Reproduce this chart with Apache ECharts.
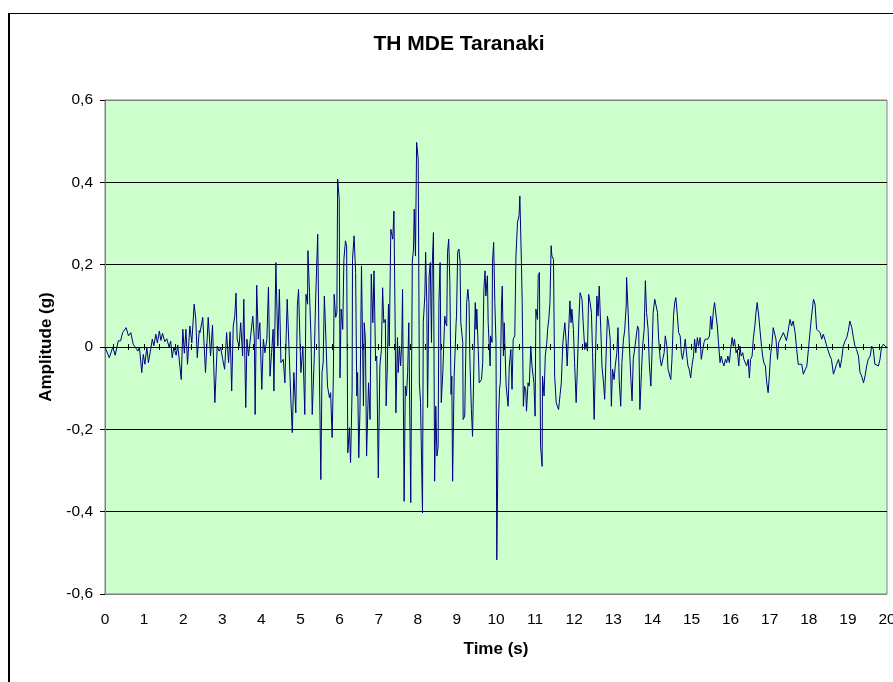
<!DOCTYPE html>
<html><head><meta charset="utf-8">
<script src="https://cdn.jsdelivr.net/npm/echarts@6/dist/echarts.min.js"></script>
<style>html,body{margin:0;padding:0;background:#fff}#c{width:893px;height:682px}</style>
</head><body><div id="c"></div>
<script>
const chartTitle = 'TH MDE Taranaki';
const xName = 'Time (s)';
const yName = 'Amplitude (g)';

const time = [
0.00,0.11,0.20,0.26,0.34,0.40,0.45,0.54,0.60,0.66,0.72,0.84,0.88,0.94,0.98,1.02,1.07,1.11,1.17,1.21,1.25,1.30,1.34,1.39,1.43,1.47,1.53,1.58,1.64,1.68,1.72,1.76,1.82,1.86,1.90,1.95,1.99,2.03,2.07,2.11,2.17,2.22,2.28,2.32,2.36,2.41,
2.43,2.50,2.57,2.64,2.70,2.75,2.81,2.87,2.92,2.96,3.01,3.06,3.11,3.16,3.20,3.24,3.28,3.32,3.35,3.38,3.43,3.47,3.52,3.55,3.60,3.63,3.67,3.73,3.78,3.82,3.84,3.88,3.92,3.96,4.01,4.05,4.09,4.14,4.18,4.22,4.26,4.30,4.32,4.37,4.42,4.46,4.50,4.56,4.60,4.66,4.71,4.75,4.79,4.83,4.88,4.92,4.95,
5.01,5.06,5.11,5.14,5.18,5.19,5.23,5.27,5.30,5.35,5.39,5.44,5.47,5.52,5.55,5.58,5.61,5.65,5.69,5.74,5.77,5.81,5.84,5.86,5.90,5.93,5.95,5.99,6.01,6.04,6.08,6.11,6.15,6.18,6.21,6.25,6.28,6.32,6.33,6.37,6.41,6.44,6.46,6.49,6.52,6.56,6.61,6.63,6.66,6.69,6.74,6.78,6.81,6.85,6.88,6.92,6.95,6.99,7.03,7.07,7.10,7.13,7.17,7.19,7.22,7.25,7.27,
7.31,7.36,7.39,7.42,7.44,7.48,7.50,7.53,7.56,7.59,7.61,7.65,7.68,7.71,7.74,7.77,7.82,7.86,7.89,7.91,7.94,7.97,8.01,8.04,8.07,8.12,8.14,8.18,8.20,8.23,8.25,8.29,8.32,8.35,8.37,8.40,8.43,8.46,8.49,8.52,8.54,8.57,8.60,8.64,8.66,8.69,8.71,8.74,8.76,8.79,8.82,8.85,8.87,8.89,8.93,8.98,8.99,9.02,9.05,9.08,9.10,9.15,9.16,9.20,9.22,9.25,9.28,9.31,9.33,9.37,9.40,9.44,9.47,9.49,9.51,9.54,9.56,9.57,9.61,9.63,9.66,9.69,9.72,9.74,9.78,9.80,
9.85,9.86,9.90,9.91,9.94,9.97,10.00,10.02,10.04,10.06,10.09,10.11,10.14,10.16,10.19,10.21,10.26,10.31,10.34,10.38,10.41,10.44,10.48,10.51,10.55,10.59,10.61,10.65,10.67,10.70,10.73,10.76,10.78,10.82,10.85,10.89,10.92,10.95,10.97,11.00,11.02,11.06,11.08,11.11,11.14,11.18,11.19,11.23,11.26,11.30,11.32,11.35,11.38,11.41,11.43,11.47,11.50,11.54,11.57,11.60,11.64,11.67,11.71,11.76,11.79,11.82,11.86,11.89,11.92,11.94,11.98,12.01,12.05,12.08,12.12,12.15,
12.20,12.23,12.27,12.30,12.34,12.37,12.40,12.44,12.47,12.51,12.54,12.58,12.61,12.64,12.68,12.71,12.75,12.78,12.81,12.85,12.88,12.92,12.95,12.98,13.02,13.05,13.09,13.12,13.15,13.19,13.22,13.26,13.29,13.33,13.34,13.38,13.41,13.45,13.48,13.51,13.55,13.58,13.62,13.65,13.68,13.72,13.75,13.79,13.82,13.85,13.89,13.92,13.96,13.99,14.02,14.06,14.09,14.13,14.16,14.20,14.23,14.26,14.30,14.33,14.37,14.40,14.43,14.47,14.50,14.54,14.57,14.60,14.64,14.67,14.71,
14.74,14.77,14.81,14.84,14.88,14.91,14.94,14.98,15.01,15.05,15.08,15.11,15.15,15.18,15.22,15.25,15.29,15.32,15.35,15.39,15.42,15.46,15.49,15.52,15.56,15.59,15.63,15.66,15.69,15.73,15.76,15.80,15.83,15.87,15.90,15.93,15.97,16.00,16.04,16.07,16.10,16.14,16.17,16.21,16.24,16.27,16.31,16.34,16.38,16.41,16.45,16.48,16.51,16.55,16.58,16.62,16.65,16.68,16.72,16.75,16.79,16.82,16.85,16.89,16.92,16.96,16.99,17.02,17.06,17.09,17.13,17.16,17.20,17.23,17.26,
17.31,17.35,17.39,17.43,17.48,17.52,17.56,17.60,17.65,17.69,17.73,17.78,17.82,17.86,17.90,17.95,17.99,18.03,18.07,18.12,18.16,18.20,18.24,18.29,18.33,18.37,18.41,18.46,18.50,18.54,18.58,18.63,18.67,18.71,18.76,18.80,18.84,18.88,18.93,18.97,19.01,19.05,19.10,19.14,19.18,19.22,19.27,19.31,19.35,19.40,19.44,19.48,19.52,19.57,19.61,19.65,19.69,19.74,19.78,19.82,19.86,19.91,19.95,19.99
];

const amplitude = [
0.000,-0.026,0.000,-0.020,0.015,0.015,0.035,0.047,0.027,0.035,0.007,-0.010,0.000,-0.062,-0.018,-0.042,0.000,-0.038,-0.005,0.019,0.003,0.031,0.010,0.039,0.016,0.033,0.013,0.020,0.000,0.014,-0.026,0.000,-0.020,0.005,-0.032,-0.079,0.043,-0.015,0.043,-0.042,0.051,0.010,0.104,0.070,-0.026,0.040,
0.035,0.072,-0.062,0.072,-0.022,0.053,-0.135,0.002,-0.010,-0.002,-0.030,-0.054,0.035,-0.038,0.037,-0.107,0.051,0.075,0.131,0.019,0.002,0.059,-0.022,0.116,-0.147,0.019,-0.022,0.031,0.075,0.019,-0.164,0.150,0.019,0.059,-0.103,0.019,-0.014,0.019,0.145,-0.071,-0.014,0.043,-0.107,0.205,0.002,0.140,-0.038,-0.030,-0.087,0.116,-0.014,-0.119,-0.208,-0.062,-0.160,0.100,0.140,
-0.062,0.002,-0.164,0.128,0.104,0.234,0.132,0.019,-0.164,-0.030,0.124,0.274,0.035,-0.322,-0.062,-0.038,0.124,0.019,-0.095,-0.123,-0.111,-0.220,-0.071,0.128,0.072,0.084,0.408,0.359,-0.075,0.092,0.043,0.213,0.258,0.246,-0.257,-0.196,-0.281,-0.104,0.213,0.270,0.181,-0.119,-0.062,-0.269,-0.160,0.197,-0.143,0.059,0.019,-0.265,-0.087,-0.176,0.177,0.059,0.185,-0.034,-0.022,-0.318,-0.046,-0.006,0.144,0.059,0.067,-0.143,-0.051,0.104,0.002,
0.286,0.262,0.330,0.059,-0.160,0.023,-0.062,0.002,-0.046,0.011,0.140,-0.375,-0.095,-0.119,-0.062,0.059,-0.378,0.209,0.238,0.335,0.221,0.497,0.457,-0.087,-0.135,-0.403,0.059,0.124,0.230,0.108,-0.147,0.173,0.205,0.011,0.201,0.278,-0.326,-0.144,-0.265,-0.241,0.108,0.205,-0.135,-0.062,-0.006,0.075,0.059,0.051,0.230,0.262,0.157,-0.115,-0.071,-0.326,-0.071,0.059,0.075,0.230,0.238,0.209,0.059,0.011,-0.176,-0.168,-0.054,0.108,0.140,0.108,-0.022,-0.152,-0.217,-0.014,0.108,0.043,0.092,0.092,-0.046,-0.087,-0.087,-0.079,-0.038,0.140,0.185,0.124,0.173,0.059,
-0.046,0.027,0.011,0.205,0.254,0.108,0.011,-0.517,-0.346,-0.184,-0.103,-0.087,0.100,0.148,-0.022,0.059,-0.095,-0.144,-0.046,-0.006,-0.103,0.019,0.027,0.221,0.303,0.319,0.367,0.205,0.108,-0.144,-0.095,-0.103,-0.156,-0.087,-0.095,0.002,-0.046,-0.071,-0.087,-0.168,0.092,0.067,0.173,0.181,-0.241,-0.290,-0.071,-0.119,-0.022,0.011,0.043,0.067,0.108,0.246,0.221,0.213,-0.071,-0.135,-0.144,-0.152,-0.115,-0.087,0.011,0.059,0.019,-0.046,0.043,0.112,0.059,0.092,0.043,-0.038,-0.135,-0.054,0.067,0.132,
0.116,0.059,-0.006,0.011,-0.010,0.128,0.112,0.084,-0.014,-0.176,-0.046,0.124,0.075,0.148,0.043,-0.046,-0.087,-0.127,-0.038,0.075,0.059,0.019,-0.144,-0.054,-0.079,-0.046,-0.014,0.047,-0.079,-0.144,-0.038,0.019,0.039,0.100,0.169,0.084,0.007,-0.079,-0.131,-0.030,-0.002,0.002,0.051,0.043,-0.152,-0.062,0.002,0.043,0.161,0.084,0.043,-0.038,-0.095,-0.014,0.084,0.116,0.112,0.084,0.019,-0.030,-0.046,-0.050,-0.014,0.027,0.002,-0.054,-0.050,-0.079,-0.030,0.075,0.108,0.120,0.075,0.035,0.027,
-0.014,-0.030,-0.006,0.019,-0.022,-0.046,-0.054,-0.075,-0.046,-0.022,0.019,-0.014,0.023,0.002,0.023,-0.030,-0.026,0.011,0.019,0.019,0.019,0.027,0.075,0.043,0.088,0.108,0.075,0.051,0.011,-0.038,-0.022,-0.038,-0.046,-0.030,-0.038,-0.022,-0.038,-0.006,0.023,0.002,0.019,-0.014,-0.006,-0.046,0.002,-0.022,-0.014,-0.030,-0.026,-0.046,-0.030,-0.075,-0.030,-0.022,0.019,0.051,0.084,0.108,0.075,0.043,0.002,-0.022,-0.038,-0.046,-0.083,-0.111,-0.071,-0.022,0.011,0.047,0.050,0.019,-0.030,0.011,0.007,
0.027,0.035,0.039,0.015,0.019,0.067,0.051,0.063,0.035,-0.006,-0.042,-0.046,-0.042,-0.066,-0.062,-0.046,-0.006,0.035,0.075,0.116,0.104,0.043,0.043,0.035,0.019,0.031,0.019,0.002,-0.010,-0.022,-0.030,-0.066,-0.054,-0.042,-0.030,-0.050,-0.030,0.002,0.015,0.023,0.039,0.063,0.047,0.023,0.002,-0.006,-0.022,-0.062,-0.070,-0.087,-0.070,-0.046,-0.030,-0.022,0.002,-0.006,-0.042,-0.046,-0.046,-0.030,0.000,0.007,0.002,0.000
];

const xLabels = [0,1,2,3,4,5,6,7,8,9,10,11,12,13,14,15,16,17,18,19,20];
const zeroLineTicks = [0.2,0.6,1.0,1.4,1.8,2.2,2.6,3.0,3.4,3.8,4.2,4.6,5.0,5.4,5.8,6.2,6.6,7.0,7.4,7.8,8.2,8.6,9.0,9.4,9.8,10.2,10.6,11.0,11.4,11.8,12.2,12.6,13.0,13.4,13.8,14.2,14.6,15.0,15.4,15.8,16.2,16.6,17.0,17.4,17.8,18.2,18.6,19.0,19.4,19.8];

const FONT = '"Liberation Sans", Arial, sans-serif';
const chart = echarts.init(document.getElementById('c'), null, {renderer: 'canvas'});
const fmtY = v => Math.abs(v) < 1e-9 ? '0' : v.toFixed(1).replace('.', ',');

const zeroAxisBase = {
  type: 'value', min: 0, max: 20, position: 'bottom', gridIndex: 0,
  axisLine: {show: true, onZero: true, onZeroAxisIndex: 0, lineStyle: {color: '#000', width: 1}},
  axisLabel: {show: false}, splitLine: {show: false}
};

chart.setOption({
  animation: false,
  backgroundColor: '#ffffff',
  textStyle: {fontFamily: FONT},
  graphic: [
    {type: 'line', shape: {x1: 9, y1: 13, x2: 9, y2: 700}, style: {stroke: '#000', lineWidth: 2}, silent: true},
    {type: 'line', shape: {x1: 8, y1: 13.5, x2: 900, y2: 13.5}, style: {stroke: '#000', lineWidth: 1}, silent: true},
    {type: 'text', silent: true, style: {text: chartTitle, x: 459, y: 44.5, textAlign: 'center', textVerticalAlign: 'middle',
      font: 'bold 21px "Liberation Sans", Arial, sans-serif', fill: '#000'}}
  ],
  grid: {
    left: 105, top: 100, right: 6, bottom: 88, containLabel: false, outerBoundsMode: 'none',
    show: true, backgroundColor: '#CCFFCC', borderColor: '#808080', borderWidth: 1
  },
  xAxis: [
    {
      type: 'value', min: 0, max: 20, interval: 1, position: 'bottom',
      axisLine: {show: false, onZero: false}, axisTick: {show: false},
      splitLine: {show: false},
      axisLabel: {show: true, color: '#000', fontSize: 15.5, fontFamily: FONT, margin: 18,
        showMinLabel: true, showMaxLabel: true, hideOverlap: false,
        customValues: xLabels, formatter: v => String(v)},
      name: xName, nameLocation: 'middle', nameGap: 47,
      nameTextStyle: {fontFamily: FONT, fontSize: 17, fontWeight: 'bold', color: '#000'}
    },
    Object.assign({}, zeroAxisBase, {axisTick: {show: true, inside: false, length: 3, customValues: zeroLineTicks, lineStyle: {color: '#000'}}}),
    Object.assign({}, zeroAxisBase, {axisTick: {show: true, inside: true, length: 3, customValues: zeroLineTicks, lineStyle: {color: '#000'}}})
  ],
  yAxis: {
    type: 'value', min: -0.6, max: 0.6, interval: 0.2,
    axisLine: {show: true, lineStyle: {color: '#808080', width: 1}},
    axisTick: {show: true, inside: false, length: 5, lineStyle: {color: '#000'}},
    axisLabel: {color: '#000', fontSize: 15.5, fontFamily: FONT, margin: 12, formatter: fmtY},
    splitLine: {show: true, lineStyle: {color: ['#808080', '#000', '#000', '#000', '#000', '#000', '#808080'], width: 1}},
    name: yName, nameLocation: 'middle', nameGap: 50, nameRotate: 90,
    nameTextStyle: {fontFamily: FONT, fontSize: 17, fontWeight: 'bold', color: '#000'}
  },
  series: [{
    type: 'line', xAxisIndex: 0, yAxisIndex: 0,
    data: time.map((t, i) => [t, amplitude[i]]),
    showSymbol: false, symbol: 'none', smooth: false,
    lineStyle: {color: '#000080', width: 1},
    z: 3
  }]
});
</script>
</body></html>
